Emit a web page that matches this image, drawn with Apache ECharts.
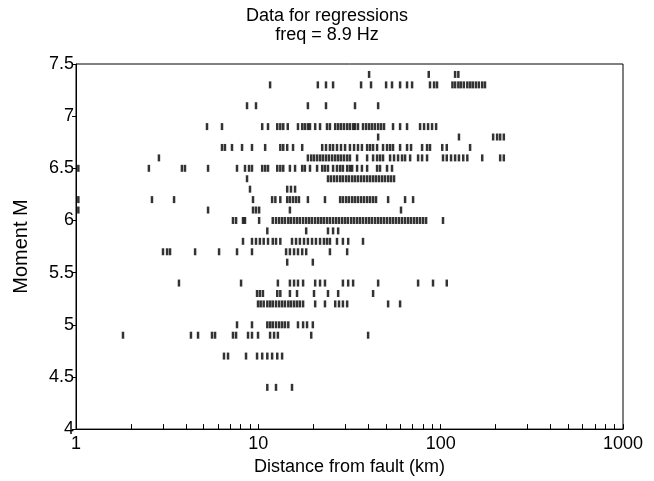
<!DOCTYPE html>
<html lang="en">
<head>
    <meta charset="UTF-8">
    <title>Data for regressions</title>
    <script src="https://cdn.jsdelivr.net/npm/echarts@6/dist/echarts.min.js"></script>
    <style>
        *{
            padding: 0;
            margin: 0;
        }
        html ,body{
            width: 100%;
            height: 100%;
            background: #fff;
        }
        .echarts{
            width: 654px;
            height: 481px;
        }
    </style>
</head>
<body>
<div class="echarts"></div>
<script>
    // distance from fault (km) of each record, grouped by moment magnitude
    const d74 = [40.5, 86, 120, 125];
    const d73 = [11.6, 21.2, 23.5, 25.7, 36.6, 41.5, 50.2, 54.1, 59.9, 65.4, 69.7, 87.4, 92, 95.5,
        116, 120, 125, 129, 134, 140, 145, 150, 156, 162, 169, 175];
    const d71 = [8.67, 9.71, 18.7, 23.5, 33.9, 45.4];
    const d69 = [5.23, 6.32, 10.5, 11.3, 12.7, 13.2, 13.7, 14.5, 16.5, 17.4, 18.0, 18.7, 19.2, 20.5,
        21.8, 23.8, 24.7, 26.4, 27.4, 28.4, 29.5, 30.7, 31.8, 33.1, 33.9, 35.2, 37.5, 39.0, 40.5,
        42.0, 43.6, 45.4, 47.1, 48.9, 54.8, 59.9, 65.4, 77.1, 81.1, 85.3, 89.7, 94.4];
    const d68 = [45.4, 126, 194, 204, 212, 222];
    const d67 = [6.32, 6.56, 7.17, 8.14, 9.23, 10.9, 13.2, 13.7, 14.4, 15.5, 17.4, 22.4, 23.5, 24.7,
        25.7, 27.0, 28.4, 29.9, 31.8, 33.5, 35.2, 37.0, 39.5, 41.0, 42.6, 44.8, 48.3, 50.8, 52.8,
        54.8, 59.9, 65.4, 68.8, 79.1, 84.2, 87.4, 102, 108, 145];
    const d66 = [2.85, 18.7, 19.5, 20.2, 21.0, 21.8, 22.6, 23.5, 24.4, 25.4, 26.4, 27.4, 28.4, 29.5,
        30.7, 31.8, 34.8, 39.5, 42.6, 44.8, 46.5, 48.3, 52.8, 55.5, 58.4, 61.4, 63.8, 68.0, 75.2,
        79.1, 84.2, 103, 108, 114, 120, 126, 133, 140, 169, 212, 222];
    const d65 = [1.03, 2.51, 3.81, 3.96, 5.30, 7.64, 8.45, 8.89, 9.23, 10.5, 10.9, 11.3, 12.7, 13.2,
        13.7, 14.9, 15.9, 17.4, 18.0, 19.2, 21.0, 22.4, 23.2, 24.1, 25.7, 27.0, 28.1, 29.1, 30.7,
        31.8, 32.7, 34.8, 37.0, 39.5, 44.8, 46.5, 50.8, 54.1];
    const d64 = [8.67, 24.1, 25.0, 26.0, 27.0, 28.1, 29.1, 30.3, 31.4, 32.7, 33.9, 35.2, 36.6, 38.0,
        39.5, 41.0, 42.6, 44.2, 45.9, 47.7, 49.5, 51.5, 53.4, 55.5];
    const d63 = [9.0, 14.4, 15.1, 15.9];
    const d62 = [1.03, 2.61, 3.45, 9.35, 11.9, 12.4, 13.2, 14.4, 14.9, 15.5, 16.1, 16.7, 18.7, 23.2,
        28.1, 29.1, 30.3, 31.4, 32.7, 33.9, 35.2, 36.6, 38.0, 39.5, 41.0, 42.6, 44.2, 51.5, 63.8, 70.6];
    const d61 = [1.03, 5.30, 9.35, 9.71, 10.1, 14.9, 60.6];
    const d60 = [7.26, 7.55, 8.24, 8.45, 10.1, 12.0, 12.5, 13.0, 13.5, 14.0, 14.6, 15.1, 15.7, 16.3,
        16.9, 17.6, 18.3, 19.0, 19.7, 20.5, 21.3, 22.1, 22.9, 23.8, 24.7, 25.7, 26.7, 27.7, 28.8,
        29.9, 31.0, 32.3, 33.5, 34.8, 36.1, 37.5, 39.0, 40.5, 42.0, 43.7, 45.4, 47.1, 48.9, 50.8,
        52.8, 54.8, 56.9, 59.1, 61.4, 63.8, 66.3, 68.8, 71.5, 74.2, 77.1, 80.1, 83.2, 103];
    const d59 = [11.2, 18.3, 24.1, 25.7, 27.4];
    const d58 = [8.24, 9.23, 9.71, 10.2, 10.7, 11.3, 12.0, 12.5, 13.2, 15.3, 16.1, 16.9, 17.8, 18.7,
        19.7, 20.7, 21.8, 22.9, 23.8, 24.7, 27.0, 29.1, 31.1, 37.5];
    const d57 = [3.0, 3.16, 3.28, 4.50, 6.09, 7.64, 9.23, 14.2, 14.9, 15.7, 16.5, 17.4, 18.3, 24.7, 30.7];
    const d56 = [14.4, 19.9];
    const d54 = [3.67, 8.04, 12.8, 14.9, 15.7, 16.5, 17.6, 20.5, 21.8, 23.2, 29.1, 31.1, 33.1, 45.4,
        75.2, 90.8, 108];
    const d53 = [9.84, 10.2, 10.6, 12.7, 13.2, 14.9, 16.3, 20.2, 24.1, 27.4, 42.6];
    const d52 = [9.96, 10.3, 10.7, 11.2, 11.6, 12.0, 12.5, 13.0, 13.5, 14.0, 14.6, 15.1, 15.7, 16.3,
        16.9, 17.6, 20.5, 23.2, 26.4, 27.7, 29.1, 30.7, 51.5, 59.9];
    const d50 = [7.64, 9.23, 11.2, 11.6, 12.0, 12.5, 13.0, 13.5, 14.0, 14.6, 16.5, 17.6, 18.5, 19.9];
    const d49 = [1.81, 4.27, 4.67, 5.57, 5.79, 7.26, 7.55, 8.78, 9.23, 9.96, 11.6, 12.2, 12.8, 19.5, 40.0];
    const d47 = [6.48, 6.82, 8.56, 9.84, 10.5, 11.2, 11.9, 12.7, 13.5];
    const d44 = [11.2, 12.5, 15.3];

    const magnitudes = [7.4, 7.3, 7.1, 6.9, 6.8, 6.7, 6.6, 6.5, 6.4, 6.3, 6.2, 6.1, 6.0, 5.9, 5.8,
        5.7, 5.6, 5.4, 5.3, 5.2, 5.0, 4.9, 4.7, 4.4];
    const distances = [d74, d73, d71, d69, d68, d67, d66, d65, d64, d63, d62, d61, d60, d59, d58,
        d57, d56, d54, d53, d52, d50, d49, d47, d44];

    const xTickValues = [1, 2, 3, 4, 5, 6, 7, 8, 9, 10, 20, 30, 40, 50, 60, 70, 80, 90,
        100, 200, 300, 400, 500, 600, 700, 800, 900, 1000];
    const xLabelValues = [1, 10, 100, 1000];

    window.onload = function () {
        let myCharts = echarts.init(document.querySelector('.echarts'));
        let points = [];
        magnitudes.forEach((m, i) => {
            distances[i].forEach(d => points.push([d, m]));
        });

        let font = 'Liberation Sans, Arial, sans-serif';
        let option = {
            animation: false,
            backgroundColor: '#fff',
            title: {
                text: 'Data for regressions\nfreq = 8.9 Hz',
                left: 'center',
                top: 2,
                textStyle: {
                    color: '#000',
                    fontFamily: font,
                    fontWeight: 'normal',
                    fontSize: 18,
                    lineHeight: 19
                }
            },
            grid: {
                left: 76,
                right: 31,
                top: 64,
                bottom: 49,
                show: true,
                borderColor: '#000',
                borderWidth: 1
            },
            xAxis: {
                type: 'log',
                logBase: 10,
                min: 1,
                max: 1000,
                name: 'Distance from fault (km)',
                nameLocation: 'middle',
                nameGap: 24,
                nameTextStyle: {color: '#000', fontFamily: font, fontSize: 18},
                axisLine: {lineStyle: {color: '#000', width: 1}},
                axisTick: {
                    inside: true,
                    length: 5,
                    customValues: xTickValues,
                    lineStyle: {color: '#000'}
                },
                axisLabel: {
                    color: '#000',
                    fontFamily: font,
                    fontSize: 18,
                    margin: 6,
                    customValues: xLabelValues,
                    formatter: v => String(v)
                },
                splitLine: {show: false}
            },
            yAxis: {
                type: 'value',
                min: 4,
                max: 7.5,
                interval: 0.5,
                name: 'Moment M',
                nameLocation: 'middle',
                nameGap: 45,
                nameTextStyle: {color: '#000', fontFamily: font, fontSize: 20},
                axisLine: {show: true, lineStyle: {color: '#000', width: 1}},
                axisTick: {show: true, length: 4, lineStyle: {color: '#000'}},
                axisLabel: {color: '#000', fontFamily: font, fontSize: 18, margin: 2},
                splitLine: {show: false}
            },
            series: [{
                type: 'scatter',
                data: points,
                symbol: 'rect',
                symbolSize: [2.5, 7],
                itemStyle: {color: '#000'},
                silent: true
            }]
        };
        myCharts.setOption(option);
    }
</script>
</body>
</html>
